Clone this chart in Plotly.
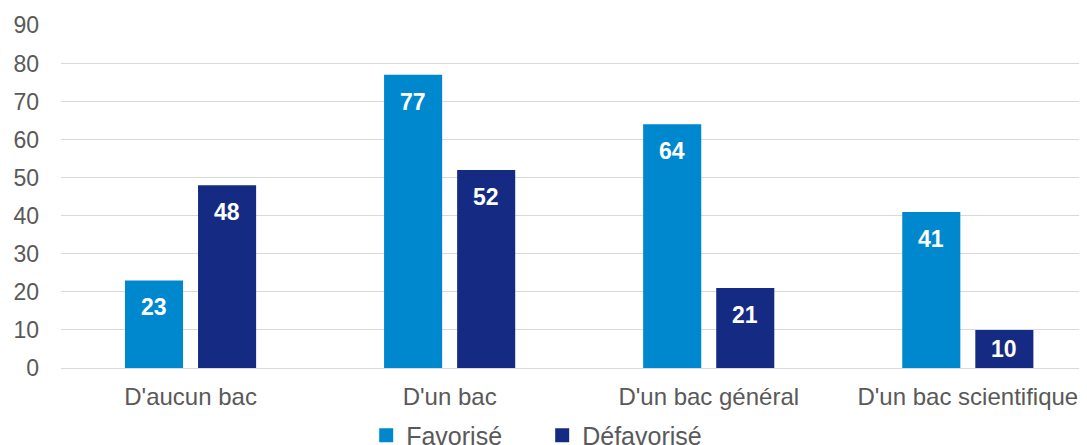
import plotly.graph_objects as go

categories = ["D'aucun bac", "D'un bac", "D'un bac général", "D'un bac scientifique"]
favorise = [23, 77, 64, 41]
defavorise = [48, 52, 21, 10]
y_ticks = [0, 10, 20, 30, 40, 50, 60, 70, 80, 90]

_font = 'Liberation Sans, Arial, sans-serif'
_grey_text = '#595959'
_grid = '#D9D9D9'
_colors = {'Favorisé': '#0088CE', 'Défavorisé': '#152A83'}

fig = go.Figure()

for name, values in [('Favorisé', favorise), ('Défavorisé', defavorise)]:
    fig.add_trace(go.Bar(x=categories,
                         y=values,
                         name=name,
                         marker=dict(color=_colors[name], line=dict(width=0)),
                         hoverinfo='x+y+name',
                         showlegend=False,
                         ))

# legend entries: bigger square swatches than the bar default
for name in ['Favorisé', 'Défavorisé']:
    fig.add_trace(go.Scatter(x=[None], y=[None],
                             mode='markers',
                             name=name,
                             marker=dict(symbol='square', size=14, color=_colors[name]),
                             showlegend=True,
                             ))

# value labels inside the bars, a bit below the top like the original
_px_per_unit = (368 - 25) / 90
annotations = []
for shift, values in [(-36.5, favorise), (36.5, defavorise)]:
    for cat, v in zip(categories, values):
        annotations.append(dict(x=cat, y=v, xref='x', yref='y',
                                xshift=shift,
                                yshift=-min(27, v * _px_per_unit / 2),
                                text=f'<b>{v}</b>',
                                showarrow=False,
                                xanchor='center', yanchor='middle',
                                font=dict(family=_font, size=23, color='white')))

# page body has an 8px margin, so the figure is shrunk by that much
fig.update_layout(
    width=1079,
    height=437,
    margin=dict(l=53, r=0, t=17, b=77, autoexpand=False),
    barmode='group',
    bargap=0.436,
    bargroupgap=0.205,
    paper_bgcolor='white',
    plot_bgcolor='white',
    font=dict(family=_font, size=23, color=_grey_text),
    xaxis=dict(
        range=[-0.5, 3.46],
        showgrid=False,
        showline=False,
        zeroline=False,
        ticks='',
        tickfont=dict(size=24, color=_grey_text),
        ticklabelstandoff=12,
    ),
    yaxis=dict(
        range=[0, 90.1],
        tickvals=y_ticks,
        showgrid=True,
        gridcolor=_grid,
        gridwidth=1,
        zeroline=True,
        zerolinecolor=_grid,
        zerolinewidth=1,
        showline=False,
        ticks='',
        tickfont=dict(size=23, color=_grey_text),
        ticklabelstandoff=21,
    ),
    showlegend=True,
    legend=dict(
        orientation='h',
        x=0.469,
        xanchor='center',
        y=-0.13,
        yanchor='top',
        font=dict(size=25, color=_grey_text),
        traceorder='normal',
        entrywidth=131,
        entrywidthmode='pixels',
    ),
    annotations=annotations,
)

fig.write_html("out.html")
